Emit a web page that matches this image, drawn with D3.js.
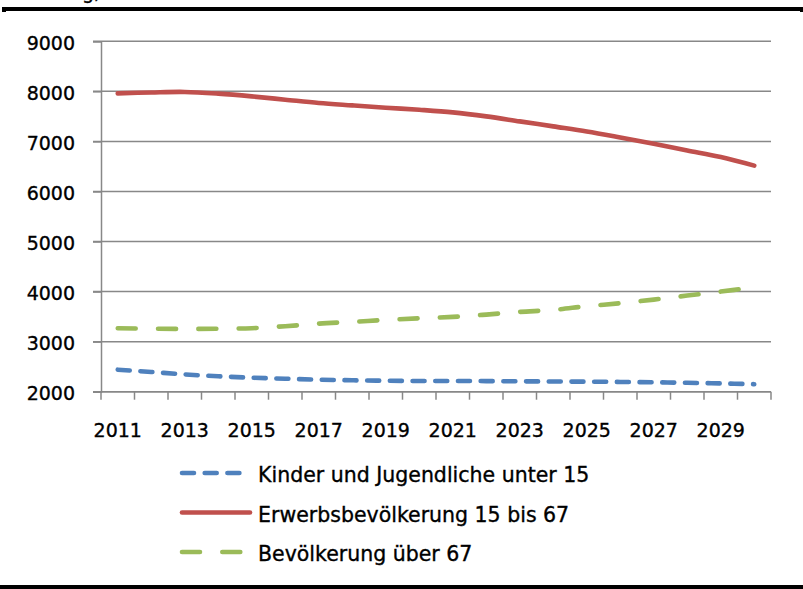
<!DOCTYPE html>
<html>
<head>
<meta charset="utf-8">
<script src="https://cdn.jsdelivr.net/npm/d3@7"></script>
<style>
  body { margin:0; background:#fff; }
  svg text { font-family:"DejaVu Sans", sans-serif; fill:#000; stroke:#000; stroke-width:0.35px; }
</style>
</head>
<body>
<svg id="chart" width="803" height="589"></svg>
<script>
// data (Tsd.)
var years = [2011,2012,2013,2014,2015,2016,2017,2018,2019,2020,
             2021,2022,2023,2024,2025,2026,2027,2028,2029,2030];
var kinder = [2440,2394,2345,2308,2280,2260,2240,2228,2220,2214,
              2214,2212,2208,2204,2200,2195,2188,2178,2166,2150];
var erwerb = [7960,7978,7988,7954,7900,7834,7768,7720,7674,7632,
              7580,7500,7400,7300,7200,7080,6954,6820,6688,6516];
var senior = [3268,3260,3254,3258,3268,3308,3360,3394,3434,3466,
              3494,3540,3594,3634,3708,3768,3840,3920,4000,4086];
var yTicks = [2000,3000,4000,5000,6000,7000,8000,9000];
var xLabels = [2011,2013,2015,2017,2019,2021,2023,2025,2027,2029];
var legendNames = ["Kinder und Jugendliche unter 15","Erwerbsbevölkerung 15 bis 67","Bevölkerung über 67"];

var grid = "#888888";
var series = [
   {name:legendNames[0], values:kinder, color:"#4F81BD", dash:"12,10.7"},
   {name:legendNames[1], values:erwerb, color:"#C0504D", dash:null},
   {name:legendNames[2], values:senior, color:"#9BBB59", dash:"18,22.3"}
];

var svg = d3.select("#chart");

var x = d3.scaleBand().domain(years).range([101, 771]);
var y = d3.scaleLinear().domain([2000, 9000]).range([391.7, 41.3]);
var cx = function(d){ return x(d) + x.bandwidth()/2; };

// frame lines top / bottom
svg.append("rect").attr("x",2).attr("y",7).attr("width",801).attr("height",4).attr("fill","#000");
svg.append("rect").attr("x",2).attr("y",7).attr("width",4).attr("height",5).attr("fill","#000");
svg.append("rect").attr("x",800).attr("y",7).attr("width",3).attr("height",5).attr("fill","#000");
svg.append("rect").attr("x",0).attr("y",585).attr("width",803).attr("height",4).attr("fill","#000");
svg.append("text").attr("x",100).attr("y",-1).attr("text-anchor","end")
   .style("font-size","19px").text("Bevölkerung,");

// gridlines
svg.append("g").selectAll("line").data(yTicks).enter().append("line")
   .attr("x1",93).attr("x2",771)
   .attr("y1",function(d){return y(d)}).attr("y2",function(d){return y(d)})
   .attr("stroke",grid).attr("stroke-width",1.5);

// y axis
var yAxis = svg.append("g").attr("transform","translate(101,0)")
   .call(d3.axisLeft(y).tickValues(yTicks).tickSize(8).tickPadding(18).tickFormat(d3.format("d")));
yAxis.selectAll("path,line").attr("stroke",grid).attr("stroke-width",1.5);
yAxis.selectAll("text").style("font-size","19px").attr("font-family",null).attr("dy","0.42em");

// x axis line + tick marks at category boundaries
var bounds = years.map(function(d){return x(d)}).concat([771]);
svg.append("line").attr("x1",101).attr("x2",771).attr("y1",y(2000)).attr("y2",y(2000))
   .attr("stroke",grid).attr("stroke-width",1.5);
svg.append("g").selectAll("line").data(bounds).enter().append("line")
   .attr("x1",function(d){return d}).attr("x2",function(d){return d})
   .attr("y1",y(2000)).attr("y2",y(2000)+8)
   .attr("stroke",grid).attr("stroke-width",1.5);
svg.append("g").selectAll("text").data(xLabels).enter().append("text")
   .attr("x",cx).attr("y",437).attr("text-anchor","middle")
   .style("font-size","19px").text(function(d){return d});

// lines
var line = d3.line().curve(d3.curveCatmullRom.alpha(0.5))
   .x(function(d,i){return cx(years[i])}).y(function(d){return y(d)});
series.forEach(function(s){
   svg.append("path").datum(s.values).attr("d",line)
      .attr("fill","none").attr("stroke",s.color).attr("stroke-width",4.6)
      .attr("stroke-linecap","round").attr("stroke-linejoin","round")
      .attr("stroke-dasharray",s.dash);
});

// legend
var lg = svg.append("g").selectAll("g").data(series).enter().append("g")
   .attr("transform",function(d,i){return "translate(0,"+(473+i*39.5)+")"});
lg.append("line").attr("x1",182).attr("x2",250).attr("y1",0).attr("y2",0)
   .attr("stroke",function(d){return d.color}).attr("stroke-width",4.6)
   .attr("stroke-linecap","round")
   .attr("stroke-dasharray",function(d){return d.dash});
lg.append("text").attr("x",258).attr("y",9).style("font-size","20.5px")
   .text(function(d){return d.name});
</script>
</body>
</html>
